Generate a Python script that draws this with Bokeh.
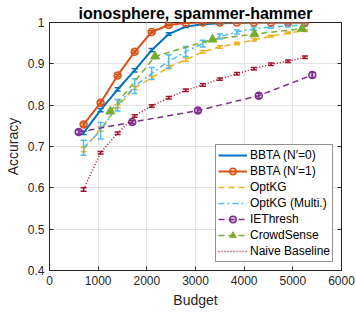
from bokeh.plotting import figure
from bokeh.models import (ColumnDataSource, Whisker, TeeHead, FixedTicker, LinearAxis,
                          Range1d, CustomJSTickFormatter)
from bokeh.embed import file_html
from bokeh.resources import INLINE

# ---------------- data ----------------
budget = [700, 1050, 1400, 1750, 2100, 2450, 2800, 3150, 3500, 3850, 4200, 4550, 4900, 5250]

bbta0 = [0.733, 0.788, 0.838, 0.884, 0.933, 0.972, 0.990, 0.996, 0.998, 0.999, 1.0, 1.0, 1.0, 1.0]
bbta0_err = [0.004, 0.004, 0.004, 0.004, 0.004, 0.003, 0.002, 0.001, 0.001, 0.001, 0.0, 0.0, 0.0, 0.0]

bbta1 = [0.753, 0.806, 0.872, 0.929, 0.977, 0.994, 0.999, 1.0, 1.0, 1.0, 1.0, 1.0, 1.0, 1.0]
bbta1_err = [0.004, 0.004, 0.003, 0.003, 0.003, 0.002, 0.001, 0.0, 0.0, 0.0, 0.0, 0.0, 0.0, 0.0]

optkg = [0.693, 0.742, 0.797, 0.842, 0.866, 0.892, 0.910, 0.929, 0.941, 0.949, 0.958, 0.967, 0.975, 0.980]
optkg_err = [0.006, 0.005, 0.004, 0.004, 0.004, 0.004, 0.004, 0.003, 0.003, 0.003, 0.003, 0.002, 0.002, 0.002]

optkg_multi = [0.697, 0.738, 0.800, 0.846, 0.877, 0.906, 0.930, 0.949, 0.966, 0.977, 0.985, 0.989, 0.992, 0.994]
optkg_multi_err = [0.018, 0.020, 0.014, 0.018, 0.014, 0.016, 0.012, 0.008, 0.006, 0.005, 0.004, 0.003, 0.003, 0.003]

ie_budget = [600, 1700, 3050, 4300, 5400]
iethresh = [0.735, 0.759, 0.787, 0.823, 0.873]
iethresh_err = [0.005, 0.004, 0.005, 0.006, 0.006]

cs_budget = [1250, 2170, 3350, 4210, 5190]
crowdsense = [0.785, 0.918, 0.959, 0.972, 0.985]

naive = [0.596, 0.685, 0.732, 0.774, 0.798, 0.818, 0.836, 0.849, 0.863, 0.876, 0.888, 0.899, 0.906, 0.916]
naive_err = [0.004, 0.003, 0.003, 0.003, 0.003, 0.003, 0.003, 0.003, 0.003, 0.003, 0.003, 0.003, 0.003, 0.003]

x_ticks = [0, 1000, 2000, 3000, 4000, 5000, 6000]
y_ticks = [0.4, 0.5, 0.6, 0.7, 0.8, 0.9, 1.0]

# ---------------- figure ----------------
FONT = "Liberation Sans"
TXT = "#262626"

p = figure(width=356, height=320, output_backend="svg", toolbar_location=None,
           x_range=Range1d(0, 6000), y_range=Range1d(0.4, 1.0),
           min_border_left=49, min_border_right=15, min_border_top=22, min_border_bottom=50,
           title="ionosphere, spammer-hammer")
p.title.text_font = FONT
p.title.text_font_size = "16px"
p.title.text_font_style = "bold"
p.title.align = "center"
p.title.text_color = "#000000"
p.title.standoff = 2
p.title.offset = 0

p.outline_line_color = TXT
p.outline_line_width = 1
p.background_fill_color = "white"
p.border_fill_color = "white"

for ax in (p.xaxis[0], p.yaxis[0]):
    ax.major_tick_in = 4
    ax.major_tick_out = 0
    ax.minor_tick_in = 0
    ax.minor_tick_out = 0
    ax.axis_line_color = TXT
    ax.major_tick_line_color = TXT
    ax.major_label_text_font = FONT
    ax.major_label_text_font_size = "12px"
    ax.major_label_text_color = TXT
    ax.axis_label_text_font = FONT
    ax.axis_label_text_font_size = "14px"
    ax.axis_label_text_font_style = "normal"
    ax.axis_label_text_color = TXT

p.xaxis.ticker = FixedTicker(ticks=x_ticks)
p.yaxis.ticker = FixedTicker(ticks=y_ticks)
p.yaxis.formatter = CustomJSTickFormatter(code="return tick.toFixed(1).replace(/\\.0$/, '');")
p.xaxis.axis_label = "Budget"
p.yaxis.axis_label = "Accuracy"
p.xaxis.major_label_standoff = 5
p.yaxis.major_label_standoff = 5
p.xaxis.axis_label_standoff = 4
p.yaxis.axis_label_standoff = 4

# right axis for the box ticks
rax = LinearAxis(ticker=FixedTicker(ticks=y_ticks),
                 formatter=CustomJSTickFormatter(code="return '';"),
                 major_tick_in=4, major_tick_out=0, minor_tick_in=0, minor_tick_out=0,
                 axis_line_color=TXT, major_tick_line_color=TXT,
                 major_label_text_font_size="0px", major_label_standoff=0)
p.add_layout(rax, "right")

p.xgrid.grid_line_color = "#e3e3e3"
p.ygrid.grid_line_color = "#e3e3e3"
p.xgrid.ticker = FixedTicker(ticks=x_ticks)
p.ygrid.ticker = FixedTicker(ticks=y_ticks)

LW = 1.5


def add_err(xs, ys, errs, color):
    src = ColumnDataSource(dict(x=xs, lo=[y - e for y, e in zip(ys, errs)],
                                hi=[y + e for y, e in zip(ys, errs)]))
    w = Whisker(source=src, base="x", lower="lo", upper="hi", dimension="height",
                line_color=color, line_width=LW,
                upper_head=TeeHead(size=6, line_color=color, line_width=LW),
                lower_head=TeeHead(size=6, line_color=color, line_width=LW))
    p.add_layout(w)


# BBTA (N'=0)
p.line(budget, bbta0, line_color="#0072BD", line_width=2, legend_label="BBTA (N\u2032=0)")
add_err(budget, bbta0, bbta0_err, "#0072BD")

# BBTA (N'=1)
p.line(budget, bbta1, line_color="#D95319", line_width=2, legend_label="BBTA (N\u2032=1)")
p.scatter(budget, bbta1, marker="circle", size=7, line_color="#D95319", line_width=LW,
          fill_color="#D95319", fill_alpha=0.25, legend_label="BBTA (N\u2032=1)")
add_err(budget, bbta1, bbta1_err, "#D95319")

# OptKG
p.line(budget, optkg, line_color="#EDB120", line_width=LW, line_dash="6 4", legend_label="OptKG")
add_err(budget, optkg, optkg_err, "#EDB120")

# OptKG (Multi.)
p.line(budget, optkg_multi, line_color="#4DBEEE", line_width=LW, line_dash="6 3 2 3",
       legend_label="OptKG (Multi.)")
add_err(budget, optkg_multi, optkg_multi_err, "#4DBEEE")

# IEThresh
p.line(ie_budget, iethresh, line_color="#7E2F8E", line_width=LW, line_dash="6 4",
       legend_label="IEThresh")
p.scatter(ie_budget, iethresh, marker="circle", size=7, line_color="#7E2F8E", line_width=LW,
          fill_color="#7E2F8E", fill_alpha=0.25, legend_label="IEThresh")
add_err(ie_budget, iethresh, iethresh_err, "#7E2F8E")

# CrowdSense
p.line(cs_budget, crowdsense, line_color="#77AC30", line_width=LW, line_dash="6 4",
       legend_label="CrowdSense")
p.scatter(cs_budget, crowdsense, marker="triangle", size=9, line_color="#77AC30",
          fill_color="#77AC30", legend_label="CrowdSense")

# Naive Baseline
p.line(budget, naive, line_color="#A2142F", line_width=LW, line_dash="1 2",
       legend_label="Naive Baseline")
add_err(budget, naive, naive_err, "#A2142F")

lg = p.legend[0]
lg.location = (166, 8)
lg.margin = 0
lg.padding = 2
lg.spacing = 0
lg.label_height = 16
lg.glyph_height = 16
lg.glyph_width = 29
lg.label_standoff = 3
lg.label_text_font = FONT
lg.label_text_font_size = "12px"
lg.label_text_color = "#000000"
lg.border_line_color = TXT
lg.border_line_width = 1
lg.background_fill_color = "white"
lg.background_fill_alpha = 1

open("out.html", "w").write(file_html(p, INLINE))
